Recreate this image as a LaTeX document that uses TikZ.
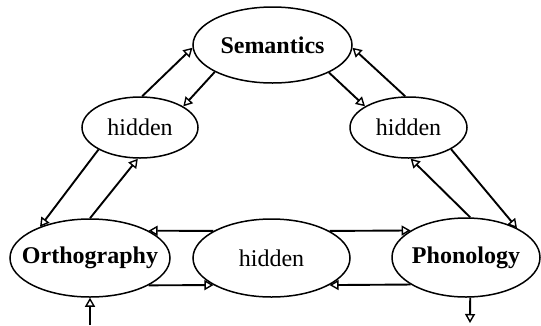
\documentclass[tikz,border=0pt]{standalone}
\usepackage{fontspec}
\setmainfont{Liberation Serif}
\usetikzlibrary{shapes.geometric,arrows.meta}

\newcommand{\lbl}[1]{\makebox[0pt]{#1}}

\begin{document}
\begin{tikzpicture}[x=1pt,y=-1pt,
  unit/.style={ellipse, draw, line width=1.5pt, inner sep=0pt,
    font=\fontsize{24}{28}\selectfont},
  link/.style={line width=1.9pt, -{Triangle[open, length=9pt, width=10pt, line width=1.4pt]}}]
  \useasboundingbox (0,0) rectangle (541,325);

  % layers
  \node[unit, minimum width=159pt, minimum height=76pt] (sem)  at (272.5,45)  {\lbl{\textbf{Semantics}}};
  \node[unit, minimum width=116pt, minimum height=61pt] (hl)   at (140,127.5) {\lbl{hidden}};
  \node[unit, minimum width=117pt, minimum height=61pt] (hr)   at (408.5,127.5) {\lbl{hidden}};
  \node[unit, minimum width=160pt, minimum height=78pt] (orth) at (90,258)    {\lbl{\textbf{Orthography}}};
  \node[unit, minimum width=157pt, minimum height=78pt] (hm)   at (271.5,258) {\lbl{hidden}};
  \node[unit, minimum width=148pt, minimum height=79pt] (phon) at (466,257.5) {\lbl{\textbf{Phonology}}};

  % external input and output
  \coordinate (in)  at (90,325);
  \coordinate (out) at (470,323);

  % orthography <-> semantics
  \draw[link] (hl.86)    -- (sem.182);
  \draw[link] (sem.205)  -- (hl.26);
  \draw[link] (hl.208)   -- (orth.148);
  \draw[link] (orth.90)  -- (hl.266);

  % semantics <-> phonology
  \draw[link] (sem.334)  -- (hr.154);
  \draw[link] (hr.96.5)  -- (sem.358);
  \draw[link] (hr.333)   -- (phon.30);
  \draw[link] (phon.84)  -- (hr.274);

  % orthography <-> phonology
  \draw[link] (hm.155)   -- (orth.25);
  \draw[link] (hm.25)    -- (phon.154);
  \draw[link] (orth.335) -- (hm.205);
  \draw[link] (phon.206) -- (hm.335);

  \draw[link] (in) -- (orth.south);
  \draw[link] (phon.276) -- (out);
\end{tikzpicture}
\end{document}
